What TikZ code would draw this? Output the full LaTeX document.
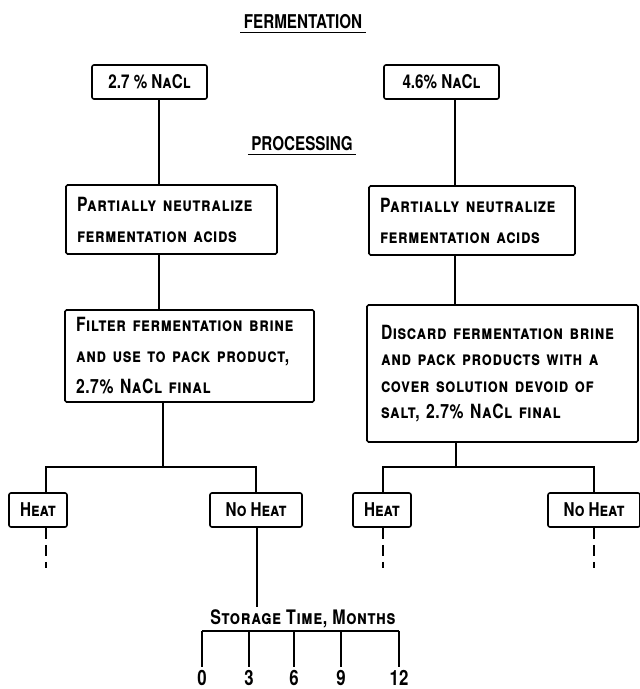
\documentclass[tikz,border=0pt]{standalone}
\usepackage{fontspec}
\setmainfont[FakeStretch=0.8]{TeX Gyre Heros}
\newfontfamily\boxfont[FakeStretch=0.8, LetterSpace=3]{TeX Gyre Heros}
\hyphenpenalty=10000

\tikzset{
  flowbox/.style={draw, line width=0.8pt, rounded corners=0.8pt, align=left, inner xsep=5.5pt, inner ysep=0pt,
    font=\boxfont\fontsize{9.8}{15.5}\selectfont\bfseries\scshape},
  tagbox/.style={draw, line width=0.8pt, rounded corners=1pt, align=center, inner sep=0pt, minimum height=17pt,
    font=\fontsize{9.5}{11}\selectfont\bfseries\scshape},
  heading/.style={inner sep=1.5pt, font=\fontsize{9.5}{11}\selectfont\bfseries},
  link/.style={line width=0.6pt},
  dashlink/.style={line width=0.6pt, dash pattern=on 5.5pt off 3pt},
}

\begin{document}
\begin{tikzpicture}[x=0.5pt, y=-0.5pt]
%	\draw [help lines] (0,0) grid[step=50] (639,689);  % help lines
	\useasboundingbox (0,0) rectangle (639,689);

	% headings
	\node [heading] (ferm) at (303,22) {FERMENTATION};
	\draw [link] (ferm.south west) -- (ferm.south east);
	\node [heading] (proc) at (302,144) {PROCESSING};
	\draw [link] (proc.south west) -- (proc.south east);

	% brines
	\node [tagbox, minimum width=57.5pt] (nacl1) at (149.5,82) {2.7 \% NaCl};
	\node [tagbox, minimum width=57.5pt] (nacl2) at (441.5,82) {4.6\% NaCl};

	% processing steps
	\node [flowbox, text width=94.5pt, minimum height=34.5pt] (neut1) at (171.5,219.5)
		{Partially neutralize\\fermentation acids};
	\node [flowbox, text width=92pt, minimum height=34.5pt] (neut2) at (472,220.5)
		{Partially neutralize\\fermentation acids};
	\node [flowbox, text width=113.5pt, minimum height=46pt] (filter) at (189.5,356)
		{Filter fermentation brine\\and use to pack product,\\2.7\% NaCl final};
	\node [flowbox, text width=121.5pt, inner xsep=7pt, minimum height=68.5pt,
		font=\boxfont\fontsize{9.8}{13.3}\selectfont\bfseries\scshape] (discard) at (502.5,373.5)
		{Discard fermentation brine\\and pack products with a\\cover solution devoid of\\salt, 2.7\% NaCl final};

	% heat treatments
	\node [tagbox, minimum width=29pt] (heat1) at (38,510) {Heat};
	\node [tagbox, minimum width=46pt] (noheat1) at (256,510) {No Heat};
	\node [tagbox, minimum width=29pt] (heat2) at (382,510) {Heat};
	\node [tagbox, minimum width=46pt] (noheat2) at (594,510) {No Heat};

	% line columns and split points
	\coordinate (colA) at (159,0);
	\coordinate (colB) at (455,0);
	\coordinate (split1) at (163,467);
	\coordinate (split2) at (456,467);
	\coordinate (h1) at (46,467);
	\coordinate (h2) at (383,467);
	\coordinate (end1) at (46,568);
	\coordinate (end2) at (383,568);
	\coordinate (end3) at (594,568);
	\coordinate (axtop) at (257,607);

	% connectors
	\draw [link] (nacl1.south -| colA) -- (neut1.north -| colA);
	\draw [link] (neut1.south -| colA) -- (filter.north -| colA);
	\draw [link] (filter.south -| split1) -- (split1);
	\draw [link] (heat1.north -| h1) -- (h1) -- (h1 -| noheat1) -- (noheat1.north);
	\draw [link] (nacl2.south -| colB) -- (neut2.north -| colB);
	\draw [link] (neut2.south -| colB) -- (discard.north -| colB);
	\draw [link] (discard.south -| split2) -- (split2);
	\draw [link] (heat2.north -| h2) -- (h2) -- (h2 -| noheat2) -- (noheat2.north);

	% dashed continuations
	\draw [dashlink] (heat1.south -| end1) -- (end1);
	\draw [dashlink] (heat2.south -| end2) -- (end2);
	\draw [dashlink] (noheat2.south -| end3) -- (end3);
	\draw [link] (noheat1.south -| axtop) -- (axtop);

	% storage time axis
	\node [font=\boxfont\fontsize{10}{11}\selectfont\bfseries\scshape, inner sep=0pt] (stor) at (303,619) {Storage Time, Months};
	\draw [link] (202,631) -- (399,631);
	\foreach \x/\m in {202/0, 249/3, 294/6, 341/9, 399/12} {
		\draw [link] (\x,631) -- (\x,667);
		\node [font=\fontsize{10.5}{11}\selectfont\bfseries, inner sep=0pt] (t\m) at (\x,678) {\m};
	}
\end{tikzpicture}
\end{document}
